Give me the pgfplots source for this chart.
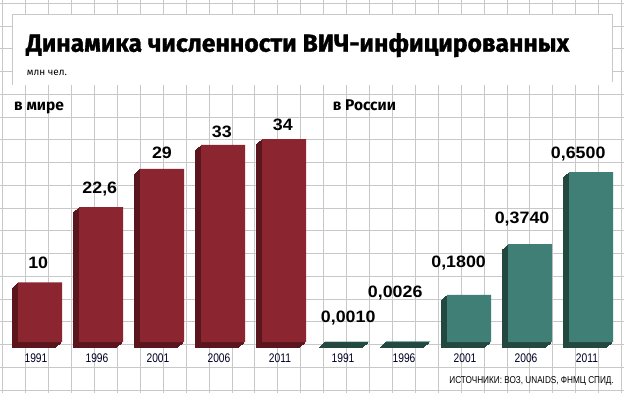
\documentclass[border=0pt]{standalone}
\usepackage{pgfplots}
\pgfplotsset{compat=1.18}
\usepackage{pgfplotstable}
\usepackage{graphicx}
\usepackage{fontspec}
\setmainfont{Liberation Sans}
\newfontfamily\heavy{Fira Sans}
\newfontfamily\heavyt[FakeBold=1.3]{Fira Sans}
\newfontfamily\narrow[FakeStretch=0.82]{Liberation Sans}
\newfontfamily\valfont[FakeStretch=1.08]{Liberation Sans}
\definecolor{gridc}{RGB}{200,200,200}
\definecolor{redf}{RGB}{139,38,48}
\definecolor{redd}{RGB}{90,22,28}
\definecolor{tealf}{RGB}{63,127,118}
\definecolor{teald}{RGB}{35,72,63}
\pgfplotstableread{
x y
0 10
1 22.6
2 29
3 33
4 34
}\world
\pgfplotstableread{
x y
0 0.0010
1 0.0026
2 0.18
3 0.374
4 0.65
}\russia
\pgfplotsset{
  barbase/.style={scale only axis, clip=false, axis line style={draw=none},
    ytick=\empty, xtick={0,1,2,3,4}, xticklabels={1991,1996,2001,2006,2011},
    major tick length=0pt, xmin=-0.5, xmax=4.5, ymin=0,
    xticklabel style={font=\narrow\fontsize{12.5bp}{14bp}\selectfont, text=black!85!blue, anchor=base, xshift=-4bp, yshift=-20.5bp}},
  front/.style={ybar, bar width=44bp, bar shift=0pt, draw=none, fill=#1, forget plot},
  back/.style={ybar, bar width=43.4bp, bar shift=0pt, draw=#1, line width=0.6bp, fill=#1, forget plot},
  vals/.style={draw=none, mark=none, forget plot, nodes near coords, point meta=explicit symbolic,
    every node near coord/.append style={anchor=center, inner sep=0pt,
      font=\valfont\bfseries\fontsize{16.5bp}{18bp}\selectfont, text=black}},
}
\begin{document}
\begin{tikzpicture}[x=1bp,y=1bp]
\useasboundingbox (0,0) rectangle (624,393);
\fill[white] (0,0) rectangle (624,393);
% background grid
\foreach \k in {0,...,27} {\draw[gridc, line width=0.8bp] ({2.7+22.92*\k},0) -- ({2.7+22.92*\k},393);}
\foreach \k in {0,...,17} {\draw[gridc, line width=0.8bp] (0,{393-3.3-22.75*\k}) -- (624,{393-3.3-22.75*\k});}
% title box
\fill[white] (12.7,308) rectangle (612,379);
\draw[gridc, line width=0.8bp] (12.7,308) -- (12.7,379) -- (612,379) -- (612,311);
\node[anchor=base west, inner sep=0pt] at (26,341.3) {\resizebox{543bp}{!}{\heavyt\bfseries\fontsize{29bp}{32bp}\selectfont Динамика численности ВИЧ-инфицированных}};
\node[anchor=base west, inner sep=0pt] at (26.7,317.3) {\heavy\fontsize{10bp}{11bp}\selectfont млн чел.};
\node[anchor=base west, inner sep=0pt] at (14,282.3) {\heavy\bfseries\fontsize{15.5bp}{17bp}\selectfont в мире};
\node[anchor=base west, inner sep=0pt] at (332.7,283) {\heavy\bfseries\fontsize{15.5bp}{17bp}\selectfont в России};
\node[anchor=base east, inner sep=0pt] at (614,9.3) {\narrow\fontsize{10bp}{12bp}\selectfont ИСТОЧНИКИ: ВОЗ, UNAIDS, ФНМЦ СПИД.};
% world
\begin{axis}[barbase, at={(9.5bp,51bp)}, anchor=south west, width=305bp, height=238.8bp, ymax=40]
\pgfplotsinvokeforeach{6,5,4,3,2,1}{
  \addplot[back=redd, xshift={-#1bp}, yshift={-0.92*#1bp}] table[x=x,y=y]{\world};
}
\addplot[front=redf] table[x=x,y=y]{\world};
\addplot[vals] coordinates {(-0.03,13.2)[10] (0.98,25.6)[22,6] (2.0,31.7)[29] (2.98,35.2)[33] (3.98,36.3)[34]};
\end{axis}
% russia
\begin{axis}[barbase, at={(316.5bp,51bp)}, anchor=south west, width=305bp, height=235.35bp, ymax=0.9]
\pgfplotsinvokeforeach{6,5,4,3,2,1}{
  \addplot[back=teald, xshift={-#1bp}, yshift={-0.92*#1bp}] table[x=x,y=y]{\russia};
}
\addplot[front=tealf] table[x=x,y=y]{\russia};
\addplot[vals] coordinates {(0.02,0.092)[0,0010] (0.79,0.187)[0,0026] (1.83,0.303)[0,1800] (2.87,0.470)[0,3740] (3.79,0.719)[0,6500]};
\end{axis}
\end{tikzpicture}
\end{document}
